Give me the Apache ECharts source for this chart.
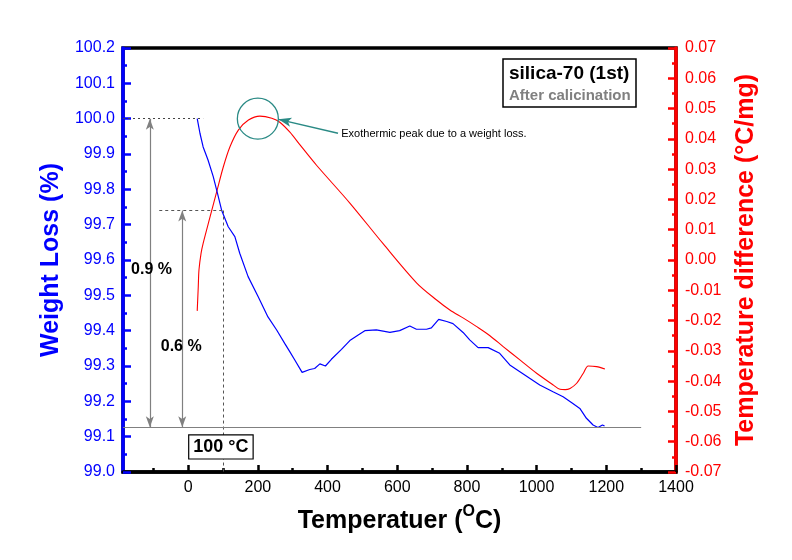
<!DOCTYPE html>
<html>
<head>
<meta charset="utf-8">
<script src="https://cdn.jsdelivr.net/npm/echarts@6/dist/echarts.min.js"></script>
<style>html,body{margin:0;padding:0;background:#fff}#c{width:792px;height:560px}</style>
</head>
<body>
<div id="c"></div>
<script>
// ---- data ----
const weightT = [26, 34, 43, 57, 72, 84, 96, 115, 134, 148, 172, 201, 229, 254, 277, 292, 306, 327, 349, 363, 378, 394, 411, 440, 464, 488, 507, 540, 579, 607, 636, 655, 684, 698, 719, 742, 760, 789, 808, 832, 861, 894, 923, 952, 980, 1009, 1047, 1076, 1104, 1124, 1143, 1162, 1176, 1189, 1195];
const weight = [100.0, 99.958, 99.92, 99.883, 99.836, 99.789, 99.741, 99.694, 99.666, 99.619, 99.553, 99.496, 99.439, 99.402, 99.364, 99.340, 99.317, 99.282, 99.290, 99.293, 99.306, 99.300, 99.319, 99.347, 99.372, 99.388, 99.400, 99.402, 99.395, 99.400, 99.413, 99.404, 99.404, 99.408, 99.432, 99.426, 99.420, 99.395, 99.374, 99.352, 99.352, 99.336, 99.303, 99.284, 99.265, 99.246, 99.227, 99.213, 99.194, 99.180, 99.152, 99.133, 99.126, 99.133, 99.130];
const diffT = [26, 29, 31, 37, 43, 63, 82, 101, 120, 144, 173, 206, 240, 263, 292, 321, 369, 464, 560, 656, 713, 751, 790, 828, 866, 904, 952, 1000, 1048, 1067, 1082, 1096, 1115, 1134, 1148, 1172, 1196];
const diff = [-0.0168, -0.0088, -0.0033, 0.0022, 0.0055, 0.0143, 0.0226, 0.0308, 0.0374, 0.0429, 0.0462, 0.0475, 0.0468, 0.0455, 0.0422, 0.0380, 0.0312, 0.0188, 0.0053, -0.0076, -0.0132, -0.0165, -0.0192, -0.0220, -0.0250, -0.0286, -0.0330, -0.0374, -0.0413, -0.0427, -0.0428, -0.0424, -0.0407, -0.0374, -0.0350, -0.0352, -0.0360];
const xTickLabels = [0, 200, 400, 600, 800, 1000, 1200, 1400];
const xMinorTicks = [-100, 100, 300, 500, 700, 900, 1100, 1300];
const xRange = [-187, 1400];
const leftRange = [99.0, 100.2];
const rightRange = [-0.07, 0.07];
// annotation values
const lossTop = 100.0, loss100 = 99.74, lossEnd = 99.127, tempMark = 100;

const FONT = "'Liberation Sans', Arial, sans-serif";
const BLUE = '#0000ff', RED = '#ff0000', TEAL = '#2a8a85', GRAY = '#808080';

const chart = echarts.init(document.getElementById('c'), null, {renderer: 'canvas'});
const option = {
  animation: false,
  backgroundColor: '#fff',
  textStyle: {fontFamily: FONT},
  title: {
    left: 503, top: 59,
    padding: [4, 6, 3, 6],
    borderColor: '#000', borderWidth: 1.5,
    itemGap: 2,
    text: 'silica-70 (1st)',
    subtext: 'After calicination',
    textStyle: {fontFamily: FONT, fontSize: 19, fontWeight: 'bold', color: '#000', lineHeight: 22},
    subtextStyle: {fontFamily: FONT, fontSize: 15, fontWeight: 'bold', color: GRAY, lineHeight: 17}
  },
  grid: {left: 123, right: 116, top: 48, bottom: 88, show: true, borderColor: '#000', borderWidth: 3.5, backgroundColor: 'transparent'},
  xAxis: [{
    type: 'value', min: xRange[0], max: xRange[1], position: 'bottom',
    axisLine: {show: true, onZero: false, lineStyle: {color: '#000', width: 3.5}},
    axisTick: {show: true, inside: true, length: 7, customValues: xTickLabels, lineStyle: {color: '#000', width: 2.5}},
    axisLabel: {show: true, customValues: xTickLabels, color: '#000', fontSize: 16, margin: 8, fontFamily: FONT, formatter: v => String(v)},
    splitLine: {show: false},
    name: '{a|Temperatuer (}{s|O}{a|C)}',
    nameLocation: 'middle', nameGap: 32,
    nameTextStyle: {
      rich: {
        a: {fontSize: 25, fontWeight: 'bold', color: '#000', fontFamily: FONT, verticalAlign: 'bottom', lineHeight: 30},
        s: {fontSize: 16, fontWeight: 'bold', color: '#000', fontFamily: FONT, verticalAlign: 'top', lineHeight: 30, padding: [0, 0, 12, 0]}
      }
    }
  }, {
    type: 'value', min: xRange[0], max: xRange[1], position: 'bottom',
    axisLine: {show: false, onZero: false},
    axisTick: {show: true, inside: true, length: 4, customValues: xMinorTicks, lineStyle: {color: '#000', width: 2.5}},
    axisLabel: {show: false},
    splitLine: {show: false}
  }],
  yAxis: [{
    type: 'value', min: leftRange[0], max: leftRange[1], interval: 0.1, position: 'left',
    axisLine: {show: true, onZero: false, lineStyle: {color: BLUE, width: 3.5}},
    axisTick: {show: true, inside: true, length: 8, lineStyle: {color: BLUE, width: 2.5}},
    minorTick: {show: true, splitNumber: 2, length: 4, lineStyle: {color: BLUE, width: 2.5}},
    axisLabel: {color: BLUE, fontSize: 16, margin: 8, fontFamily: FONT, formatter: v => v.toFixed(1)},
    splitLine: {show: false}, minorSplitLine: {show: false},
    name: 'Weight Loss (%)', nameLocation: 'middle', nameGap: 53, nameRotate: 90,
    nameTextStyle: {fontSize: 25, fontWeight: 'bold', color: BLUE, fontFamily: FONT}
  }, {
    type: 'value', min: rightRange[0], max: rightRange[1], interval: 0.01, position: 'right',
    axisLine: {show: true, onZero: false, lineStyle: {color: RED, width: 3.5}},
    axisTick: {show: true, inside: true, length: 8, lineStyle: {color: RED, width: 2.5}},
    minorTick: {show: true, splitNumber: 2, length: 4, lineStyle: {color: RED, width: 2.5}},
    axisLabel: {color: RED, fontSize: 16, margin: 9, fontFamily: FONT, formatter: v => v.toFixed(2)},
    splitLine: {show: false}, minorSplitLine: {show: false},
    name: 'Temperature difference (\u00B0C/mg)', nameLocation: 'middle', nameGap: 58, nameRotate: 90,
    nameTextStyle: {fontSize: 25, fontWeight: 'bold', color: RED, fontFamily: FONT}
  }],
  series: [{
    name: 'Weight', type: 'line', xAxisIndex: 0, yAxisIndex: 0,
    data: weightT.map((t, i) => [t, weight[i]]),
    showSymbol: false, symbol: 'none',
    lineStyle: {color: BLUE, width: 1.2},
    z: 3,
    markLine: {
      silent: true, animation: false, symbol: 'none',
      label: {show: false},
      data: [
        [{coord: [xRange[0], lossTop], lineStyle: {type: [2, 3], color: '#444', width: 1}}, {coord: [43, lossTop]}],
        [{coord: [-83, loss100], lineStyle: {type: [3, 3], color: '#555', width: 1}}, {coord: [tempMark, loss100]}],
        [{coord: [tempMark, loss100], lineStyle: {type: [3, 3], color: '#555', width: 1}}, {coord: [tempMark, leftRange[0]]}],
        [{coord: [xRange[0], lossEnd], lineStyle: {type: 'solid', color: GRAY, width: 1.2}}, {coord: [1300, lossEnd]}],
        [{coord: [-110, lossTop], symbol: 'arrow', symbolSize: [6, 11], lineStyle: {type: 'solid', color: GRAY, width: 1.2}}, {coord: [-110, lossEnd], symbol: 'arrow', symbolSize: [6, 11]}],
        [{coord: [-17, loss100], symbol: 'arrow', symbolSize: [6, 11], lineStyle: {type: 'solid', color: GRAY, width: 1.2}}, {coord: [-17, lossEnd], symbol: 'arrow', symbolSize: [6, 11]}],
        [{coord: [430, 99.959], symbol: 'none', lineStyle: {type: 'solid', color: TEAL, width: 1.5}}, {coord: [259, 99.998], symbol: 'arrow', symbolSize: [7, 13]}]
      ]
    },
    markPoint: {
      silent: true, animation: false,
      data: [
        {coord: [200, lossTop], symbol: 'circle', symbolSize: 41,
         itemStyle: {color: 'rgba(0,0,0,0)', borderColor: TEAL, borderWidth: 1.3}, label: {show: false}},
        {coord: [-105, 99.574], symbol: 'circle', symbolSize: 1, itemStyle: {color: 'rgba(0,0,0,0)'},
         label: {show: true, position: 'inside', formatter: '0.9 %', fontSize: 16, fontWeight: 'bold', color: '#000', fontFamily: FONT}},
        {coord: [-20, 99.354], symbol: 'circle', symbolSize: 1, itemStyle: {color: 'rgba(0,0,0,0)'},
         label: {show: true, position: 'inside', formatter: '0.6 %', fontSize: 16, fontWeight: 'bold', color: '#000', fontFamily: FONT}},
        {coord: [94, 99.071], symbol: 'circle', symbolSize: 1, itemStyle: {color: 'rgba(0,0,0,0)'},
         label: {show: true, position: 'inside', formatter: '100 \u00B0C', fontSize: 18, fontWeight: 'bold', color: '#000', fontFamily: FONT,
                 borderColor: '#000', borderWidth: 1.2, padding: [3, 4, 2, 4], backgroundColor: '#fff'}},
        {coord: [438, 99.957], symbol: 'circle', symbolSize: 1, itemStyle: {color: 'rgba(0,0,0,0)'},
         label: {show: true, position: 'right', distance: 0, formatter: 'Exothermic peak due to a weight loss.', fontSize: 11, color: '#000', fontFamily: FONT}}
      ]
    }
  }, {
    name: 'Diff', type: 'line', xAxisIndex: 0, yAxisIndex: 1,
    data: diffT.map((t, i) => [t, diff[i]]),
    showSymbol: false, symbol: 'none', smooth: 0.3,
    lineStyle: {color: RED, width: 1.1},
    z: 2
  }]
};
chart.setOption(option);
</script>
</body>
</html>
